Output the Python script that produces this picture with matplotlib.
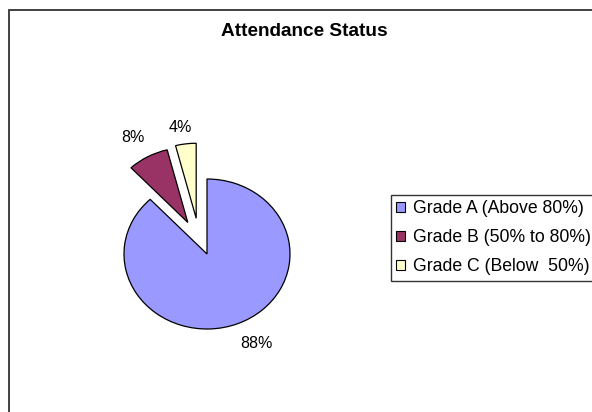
import matplotlib
matplotlib.use("Agg")
import matplotlib.pyplot as plt
from matplotlib.patches import Rectangle, Patch

plt.rcParams['font.family'] = ['Liberation Sans', 'DejaVu Sans']

# data
grades = ["Grade A (Above 80%)", "Grade B (50% to 80%)", "Grade C (Below  50%)"]
shares = [88, 8, 4]
slice_colors = ["#9999FF", "#993366", "#FFFFCC"]
explode = [0, 0.48, 0.48]

W, H = 592, 412
fig = plt.figure(figsize=(W / 100, H / 100), dpi=100)

# chart border (cropped on the right and bottom like the screenshot)
fig.patches.append(Rectangle((9 / W, -0.1), 1.2, 1 - 10 / H + 0.1,
                             transform=fig.transFigure, fill=False,
                             edgecolor="#333333", linewidth=1.3))

fig.text(304 / W, 1 - 32 / H, "Attendance Status", ha="center", va="center",
         fontsize=13.7, fontweight="bold")

# pie axes: 83 px per unit horizontally, 75 px vertically (slightly squashed)
cx, cy = 207, 254
ax = fig.add_axes([(cx - 166) / W, (H - cy - 150) / H, 332 / W, 300 / H])
wedges, texts, autotexts = ax.pie(
    shares, colors=slice_colors, explode=explode, startangle=90,
    counterclock=False, autopct="%1.0f%%", pctdistance=1.3,
    wedgeprops=dict(edgecolor="black", linewidth=0.9),
    textprops=dict(fontsize=11.5))
ax.set_aspect("auto")
ax.set_xlim(-2, 2)
ax.set_ylim(-2, 2)
ax.axis("off")

# small nudges so slice C and the labels sit where Excel put them
c0 = wedges[2].center
wedges[2].set_center((c0[0] - 0.07, c0[1]))
for t, (dx, dy) in zip(autotexts, [(0.12, 0.02), (-0.04, 0.0), (-0.1, -0.08)]):
    x, y = t.get_position()
    t.set_position((x + dx, y + dy))

handles = [Patch(facecolor=c, edgecolor="black", linewidth=0.8) for c in slice_colors]
leg = fig.legend(handles, grades, loc="upper left",
                 bbox_to_anchor=(391 / W, 1 - 195 / H),
                 fontsize=12.7, frameon=True, fancybox=False,
                 handlelength=0.5, handleheight=0.5, handletextpad=0.45,
                 labelspacing=0.68, borderpad=0.3, borderaxespad=0)
leg.get_frame().set_edgecolor("black")
leg.get_frame().set_linewidth(1.0)

fig.savefig("out.png", dpi=100)
